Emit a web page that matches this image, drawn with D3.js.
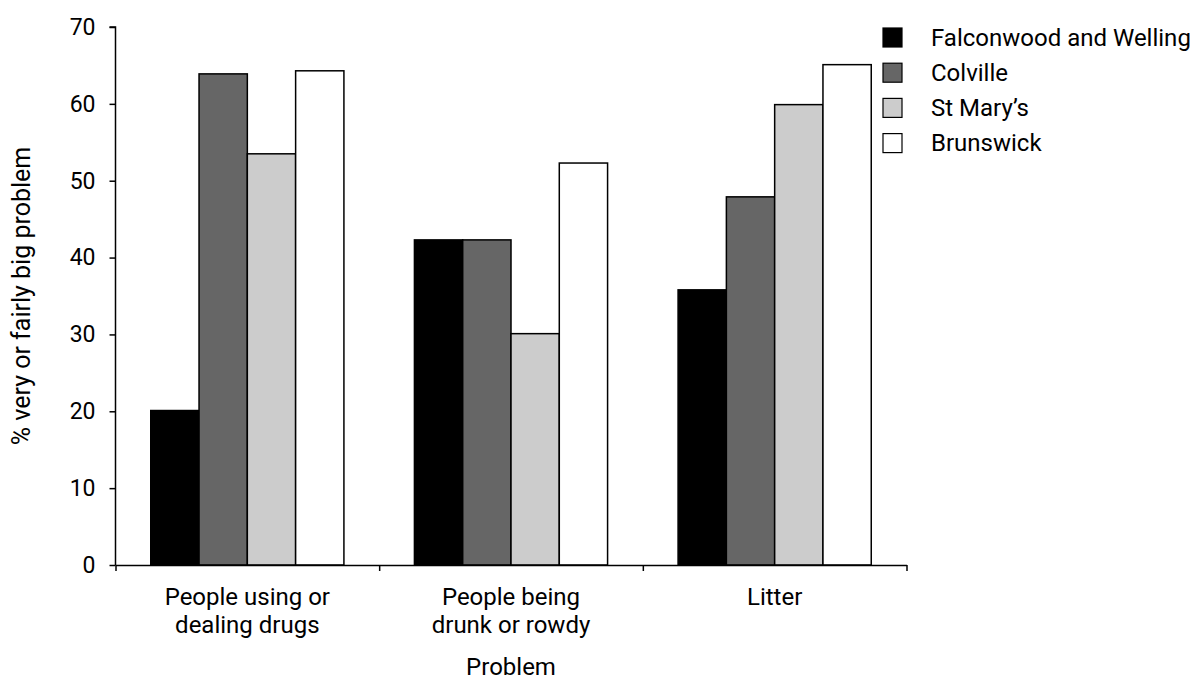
<!DOCTYPE html>
<html>
<head>
<meta charset="utf-8">
<script src="https://cdn.jsdelivr.net/npm/d3@7/dist/d3.min.js"></script>
<style>
  html, body { margin: 0; padding: 0; background: #fff; }
  svg { display: block; font-family: Roboto, "Liberation Sans", sans-serif; }
</style>
</head>
<body>
<svg id="chart" width="1198" height="681"></svg>
<script>
const categories = [["People using or", "dealing drugs"], ["People being", "drunk or rowdy"], ["Litter"]];
const categoryKeys = ["drugs", "drunk", "litter"];
const seriesNames = ["Falconwood and Welling", "Colville", "St Mary\u2019s", "Brunswick"];
const seriesColors = ["#000000", "#666666", "#cccccc", "#ffffff"];
const falconwood = [20.1, 42.3, 35.8];
const colville = [63.9, 42.3, 47.9];
const stMarys = [53.5, 30.1, 59.9];
const brunswick = [64.3, 52.3, 65.1];
const yTicks = [0, 10, 20, 30, 40, 50, 60, 70];
const yTitle = "% very or fairly big problem";
const xTitle = "Problem";

const seriesValues = [falconwood, colville, stMarys, brunswick];

const svg = d3.select("#chart");
const mLeft = 115.5, mRight = 906.5, mTop = 27, mBottom = 565;

const x = d3.scaleBand().domain(categoryKeys).range([mLeft, mRight]).paddingInner(0).paddingOuter(0);
const xInner = d3.scaleBand().domain(seriesNames).range([0, x.bandwidth()]).paddingInner(0).paddingOuter(0.73);
const y = d3.scaleLinear().domain([0, 70]).range([mBottom, mTop]);

// bars
seriesNames.forEach((s, si) => {
  svg.append("g").selectAll("rect")
    .data(categoryKeys.map((k, ci) => ({k, v: seriesValues[si][ci]})))
    .join("rect")
    .attr("x", d => x(d.k) + xInner(s))
    .attr("y", d => y(d.v))
    .attr("width", xInner.bandwidth())
    .attr("height", d => y(0) - y(d.v))
    .attr("fill", seriesColors[si])
    .attr("stroke", "#000")
    .attr("stroke-width", 1.5);
});

// y axis
const yAxis = svg.append("g").attr("transform", `translate(${mLeft},0)`)
  .call(d3.axisLeft(y).tickValues(yTicks).tickSize(6).tickPadding(14).tickFormat(d3.format("d")));
yAxis.selectAll("path, line").attr("stroke", "#000").attr("stroke-width", 1.5);
yAxis.select(".domain").attr("d", `M-6,${mTop}H0V${mBottom}`);
yAxis.selectAll("text").attr("font-size", 23).attr("fill", "#000").attr("font-family", "Roboto");

// x axis with ticks at band boundaries
const xLin = d3.scaleLinear().domain([0, categoryKeys.length]).range([mLeft, mRight]);
const xAxis = svg.append("g").attr("transform", `translate(0,${mBottom})`)
  .call(d3.axisBottom(xLin).tickValues(d3.range(categoryKeys.length + 1)).tickSize(6).tickSizeOuter(0).tickFormat(""));
xAxis.selectAll("path, line").attr("stroke", "#000").attr("stroke-width", 1.5);

// category labels
const labels = svg.append("g");
categories.forEach((lines, ci) => {
  const cx = x(categoryKeys[ci]) + x.bandwidth() / 2;
  const t = labels.append("text")
    .attr("x", cx)
    .attr("y", 605)
    .attr("text-anchor", "middle")
    .attr("font-size", 24)
    .attr("fill", "#000");
  lines.forEach((ln, li) => {
    t.append("tspan").attr("x", cx).attr("dy", li === 0 ? 0 : 28).text(ln);
  });
});

// axis titles
svg.append("text")
  .attr("x", (mLeft + mRight) / 2).attr("y", 675)
  .attr("text-anchor", "middle").attr("font-size", 24).attr("fill", "#000")
  .text(xTitle);
svg.append("text")
  .attr("transform", `translate(30,${(mTop + mBottom) / 2}) rotate(-90)`)
  .attr("text-anchor", "middle").attr("font-size", 25).attr("fill", "#000")
  .text(yTitle);

// legend
const legend = svg.append("g").attr("transform", "translate(883,28)");
seriesNames.forEach((s, i) => {
  const g = legend.append("g").attr("transform", `translate(0,${i * 35.2})`);
  g.append("rect").attr("x", 0).attr("y", 0).attr("width", 19).attr("height", 19)
    .attr("fill", seriesColors[i]).attr("stroke", "#000").attr("stroke-width", 1.2);
  g.append("text").attr("x", 48).attr("y", 17.5).attr("font-size", 24).attr("fill", "#000").text(s);
});
</script>
</body>
</html>
